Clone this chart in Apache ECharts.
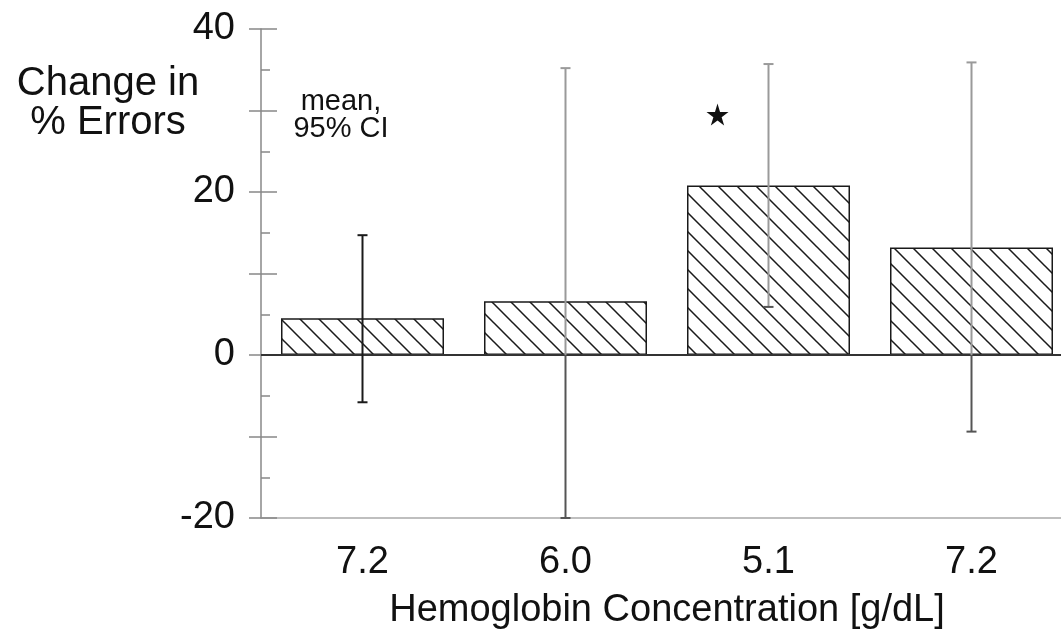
<!DOCTYPE html>
<html lang="en">
<head>
    <meta charset="UTF-8">
    <title>Change in % Errors by Hemoglobin Concentration</title>
    <script src="https://cdn.jsdelivr.net/npm/echarts@6/dist/echarts.min.js"></script>
    <style>
        html, body { margin: 0; padding: 0; background: #fff; }
        #chart { width: 1061px; height: 633px; }
    </style>
</head>
<body>
<div id="chart"></div>
<script>
    // data
    var categories = ['7.2', '6.0', '5.1', '7.2'];
    var means = [4.5, 6.6, 20.8, 13.2];
    var ciLow = [-5.8, -20, 5.9, -9.4];
    var ciHigh = [14.7, 35.2, 35.7, 35.9];
    var yTicks = [-20, 0, 20, 40];
    var starAt = [2, 29.5]; // significance mark: category index, value

    var FONT = '"Liberation Sans", Arial, sans-serif';

    // hatch pattern "\\\" for the bars
    function hatch() {
        var s = 19;
        var c = document.createElement('canvas');
        c.width = s; c.height = s;
        var ctx = c.getContext('2d');
        ctx.strokeStyle = '#1a1a1a';
        ctx.lineWidth = 1.5;
        ctx.beginPath();
        ctx.moveTo(-1, -1); ctx.lineTo(s + 1, s + 1);
        ctx.moveTo(-1, s - 1); ctx.lineTo(1, s + 1);
        ctx.moveTo(s - 1, -1); ctx.lineTo(s + 1, 1);
        ctx.stroke();
        return c;
    }

    var errColors = ['#1a1a1a', '#9a9a9a', '#9a9a9a', '#9a9a9a'];

    var chart = echarts.init(document.getElementById('chart'));
    var option = {
        animation: false,
        textStyle: { fontFamily: FONT },
        grid: { left: 261, top: 29, width: 812, height: 489, outerBoundsMode: 'none', containLabel: false },
        xAxis: {
            type: 'category',
            data: categories,
            axisLine: { onZero: false, lineStyle: { color: '#aaa', width: 1.5 } },
            axisTick: { show: false },
            axisLabel: { fontSize: 38, color: '#111', margin: 26, fontFamily: FONT },
            name: 'Hemoglobin Concentration [g/dL]',
            nameLocation: 'middle',
            nameGap: 74,
            nameTextStyle: { fontSize: 38, color: '#111', fontFamily: FONT }
        },
        yAxis: [
            {
                type: 'value', min: -20, max: 40, interval: 10,
                axisLine: { show: true, lineStyle: { color: '#888', width: 1.5 } },
                axisTick: { show: true, inside: false, length: 12, lineStyle: { color: '#888', width: 1.5 } },
                axisLabel: {
                    fontSize: 38, color: '#111', margin: 26, fontFamily: FONT,
                    formatter: function (v) { return yTicks.indexOf(v) >= 0 ? String(v) : ''; }
                },
                splitLine: { show: false }
            },
            {
                type: 'value', min: -20, max: 40, interval: 10, position: 'left',
                axisLine: { show: false },
                axisTick: { show: true, inside: true, length: 16, lineStyle: { color: '#888', width: 1.5 } },
                minorTick: { show: true, splitNumber: 2, length: 9, lineStyle: { color: '#888', width: 1.5 } },
                axisLabel: { show: false },
                splitLine: { show: false }
            }
        ],
        graphic: [
            {
                type: 'text', x: 108, y: 64,
                style: { text: 'Change in\n% Errors', font: '40px ' + FONT, fill: '#111', align: 'center', verticalAlign: 'top', lineHeight: 39 }
            },
            {
                type: 'text', x: 341, y: 88,
                style: { text: 'mean,\n95% CI', font: '29px ' + FONT, fill: '#111', align: 'center', verticalAlign: 'top', lineHeight: 27 }
            }
        ],
        series: [
            {
                type: 'bar',
                data: means,
                barWidth: 163,
                itemStyle: {
                    color: { image: hatch(), repeat: 'repeat' },
                    borderColor: '#1a1a1a',
                    borderWidth: 1.5
                },
                markLine: {
                    silent: true,
                    symbol: 'none',
                    label: { show: false },
                    lineStyle: { color: '#333', width: 2, type: 'solid' },
                    data: [{ yAxis: 0 }]
                },
                z: 2
            },
            {
                type: 'custom',
                z: 5,
                data: categories.map(function (c, i) { return [i, ciLow[i], ciHigh[i], means[i]]; }),
                renderItem: function (params, api) {
                    var i = api.value(0);
                    var lo = api.coord([i, api.value(1)]);
                    var hi = api.coord([i, api.value(2)]);
                    var zero = api.coord([i, 0]);
                    var x = lo[0];
                    var col = errColors[params.dataIndex];
                    var lowCol = params.dataIndex === 0 ? col : '#555';
                    var st = { stroke: col, lineWidth: 2 };
                    var children = [
                        { type: 'line', shape: { x1: x, y1: hi[1], x2: x, y2: Math.min(lo[1], zero[1]) }, style: st },
                        { type: 'line', shape: { x1: x - 5, y1: hi[1], x2: x + 5, y2: hi[1] }, style: st },
                        { type: 'line', shape: { x1: x - 5, y1: lo[1], x2: x + 5, y2: lo[1] }, style: { stroke: lowCol, lineWidth: 2 } }
                    ];
                    if (lo[1] > zero[1]) {
                        children.push({ type: 'line', shape: { x1: x, y1: zero[1], x2: x, y2: lo[1] }, style: { stroke: lowCol, lineWidth: 2 } });
                    }
                    return { type: 'group', children: children };
                }
            },
            {
                type: 'scatter',
                z: 6,
                data: [starAt],
                symbol: 'path://M50,0 L61,35 L98,35 L68,57 L79,91 L50,70 L21,91 L32,57 L2,35 L39,35 Z',
                symbolSize: 22,
                symbolOffset: [-51, 0],
                itemStyle: { color: '#111', opacity: 1 }
            }
        ]
    };
    chart.setOption(option);
</script>
</body>
</html>
